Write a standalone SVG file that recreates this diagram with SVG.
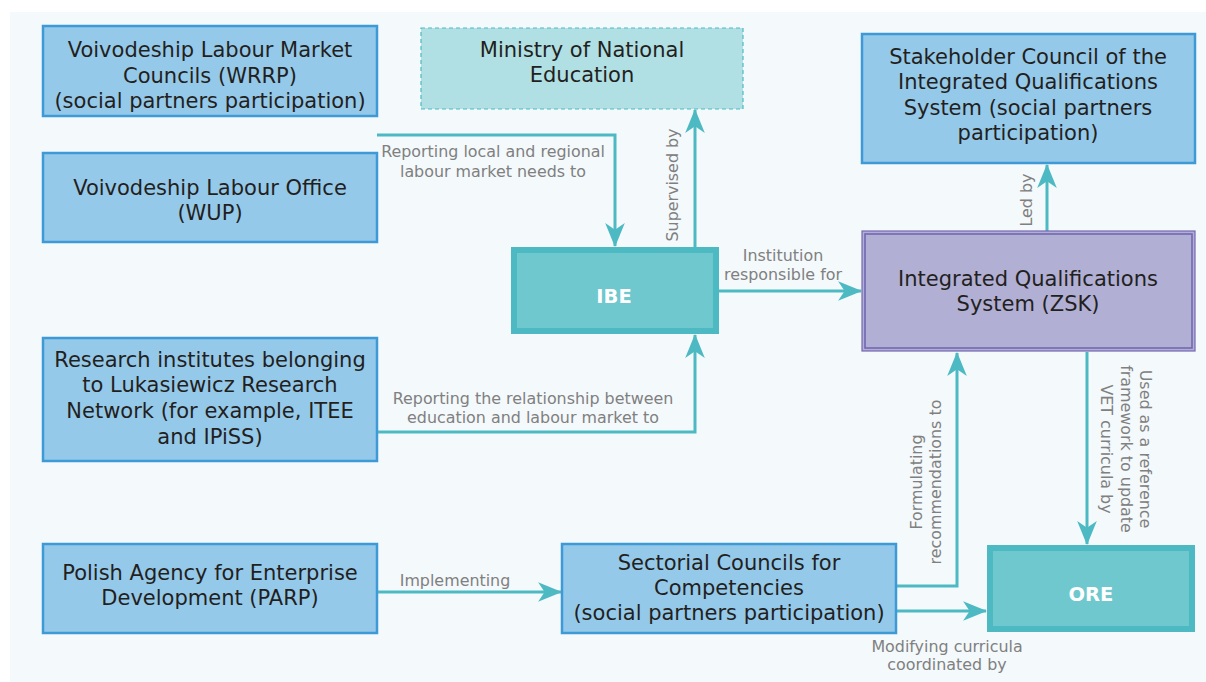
<svg xmlns="http://www.w3.org/2000/svg" width="1206" height="682" viewBox="0 0 1206 682">
  <defs>
    <marker id="arr" markerUnits="userSpaceOnUse" markerWidth="24" markerHeight="20" viewBox="0 0 22 18" refX="21" refY="9" orient="auto">
      <path d="M0,0 L22,9 L0,18 L6,9 z" fill="#4dbac3"/>
    </marker>
    <style>
      .box { fill: #95c9ea; stroke: #3d9ad6; stroke-width: 2.5; }
      .min { fill: #b0e0e4; stroke: #4dbac3; stroke-width: 1.2; stroke-dasharray: 4 3; }
      .tealO { fill: #4dbac3; }
      .tealI { fill: #6ec8cd; }
      .zsk { fill: #b1afd4; stroke: #7467b2; stroke-width: 1.2; }
      .zskI { fill: none; stroke: #7467b2; stroke-width: 1.6; }
      .t { font-family: "DejaVu Sans", "Liberation Sans", sans-serif; font-size: 21px; fill: #231f20; text-anchor: middle; }
      .b { font-family: "DejaVu Sans", "Liberation Sans", sans-serif; font-size: 19.5px; font-weight: bold; fill: #ffffff; text-anchor: middle; }
      .l { font-family: "DejaVu Sans", "Liberation Sans", sans-serif; font-size: 15.9px; fill: #808080; text-anchor: middle; }
      .c { fill: none; stroke: #4dbac3; stroke-width: 3; }
    </style>
  </defs>

  <rect x="10" y="12" width="1196" height="670" fill="#f4f9fc"/>

  <g id="connectors">
    <path class="c" d="M377,135 H615 V246" marker-end="url(#arr)"/>
    <path class="c" d="M695,247 V110" marker-end="url(#arr)"/>
    <path class="c" d="M718,291 H861" marker-end="url(#arr)"/>
    <path class="c" d="M1047,231 V165" marker-end="url(#arr)"/>
    <path class="c" d="M377,432 H695 V335" marker-end="url(#arr)"/>
    <path class="c" d="M377,592 H561" marker-end="url(#arr)"/>
    <path class="c" d="M896,586 H957 V353" marker-end="url(#arr)"/>
    <path class="c" d="M1087,352 V544" marker-end="url(#arr)"/>
    <path class="c" d="M896,611 H986" marker-end="url(#arr)"/>

    <text class="l"><tspan x="493" y="157">Reporting local and regional</tspan><tspan x="493" y="177">labour market needs to</tspan></text>
    <text class="l" transform="translate(678,185) rotate(-90)" x="0" y="0">Supervised by</text>
    <text class="l"><tspan x="783" y="261">Institution</tspan><tspan x="783" y="280">responsible for</tspan></text>
    <text class="l" transform="translate(1032,200) rotate(-90)" x="0" y="0">Led by</text>
    <text class="l"><tspan x="533" y="404">Reporting the relationship between</tspan><tspan x="533" y="423">education and labour market to</tspan></text>
    <text class="l" x="455" y="586">Implementing</text>
    <text class="l" transform="translate(0,482) rotate(-90)"><tspan x="0" y="922">Formulating</tspan><tspan x="0" y="941">recommendations to</tspan></text>
    <text class="l" transform="translate(0,449) rotate(90)"><tspan x="0" y="-1140">Used as a reference</tspan><tspan x="0" y="-1121">framework to update</tspan><tspan x="0" y="-1101">VET curricula by</tspan></text>
    <text class="l"><tspan x="947" y="652">Modifying curricula</tspan><tspan x="947" y="670">coordinated by</tspan></text>
  </g>

  <g id="wrrp">
    <rect class="box" x="43" y="26" width="334" height="90"/>
    <text class="t"><tspan x="210" y="57">Voivodeship Labour Market</tspan><tspan x="210" y="83">Councils (WRRP)</tspan><tspan x="210" y="108">(social partners participation)</tspan></text>
  </g>

  <g id="wup">
    <rect class="box" x="43" y="153" width="334" height="89"/>
    <text class="t"><tspan x="210" y="195">Voivodeship Labour Office</tspan><tspan x="210" y="220">(WUP)</tspan></text>
  </g>

  <g id="ministry">
    <rect class="min" x="421" y="28" width="322" height="81"/>
    <text class="t"><tspan x="582" y="57">Ministry of National</tspan><tspan x="582" y="82">Education</tspan></text>
  </g>

  <g id="ibe">
    <rect class="tealO" x="511" y="247" width="208" height="87"/>
    <rect class="tealI" x="517" y="253" width="196" height="75"/>
    <text class="b" x="614" y="303">IBE</text>
  </g>

  <g id="stakeholder">
    <rect class="box" x="862" y="34" width="333" height="129"/>
    <text class="t"><tspan x="1028" y="64">Stakeholder Council of the</tspan><tspan x="1028" y="89">Integrated Qualifications</tspan><tspan x="1028" y="115">System (social partners</tspan><tspan x="1028" y="140">participation)</tspan></text>
  </g>

  <g id="zsk">
    <rect class="zsk" x="862" y="231" width="333" height="120"/>
    <rect class="zskI" x="865" y="234" width="327" height="114"/>
    <text class="t"><tspan x="1028" y="286">Integrated Qualifications</tspan><tspan x="1028" y="311">System (ZSK)</tspan></text>
  </g>

  <g id="research">
    <rect class="box" x="43" y="338" width="334" height="123"/>
    <text class="t"><tspan x="210" y="367">Research institutes belonging</tspan><tspan x="210" y="392">to Lukasiewicz Research</tspan><tspan x="210" y="418">Network (for example, ITEE</tspan><tspan x="210" y="444">and IPiSS)</tspan></text>
  </g>

  <g id="parp">
    <rect class="box" x="43" y="544" width="334" height="89"/>
    <text class="t"><tspan x="210" y="580">Polish Agency for Enterprise</tspan><tspan x="210" y="605">Development (PARP)</tspan></text>
  </g>

  <g id="sectorial">
    <rect class="box" x="562" y="544" width="334" height="89"/>
    <text class="t"><tspan x="729" y="570">Sectorial Councils for</tspan><tspan x="729" y="595">Competencies</tspan><tspan x="729" y="620">(social partners participation)</tspan></text>
  </g>

  <g id="ore">
    <rect class="tealO" x="987" y="545" width="208" height="87"/>
    <rect class="tealI" x="993" y="551" width="196" height="75"/>
    <text class="b" x="1091" y="601">ORE</text>
  </g>
</svg>
